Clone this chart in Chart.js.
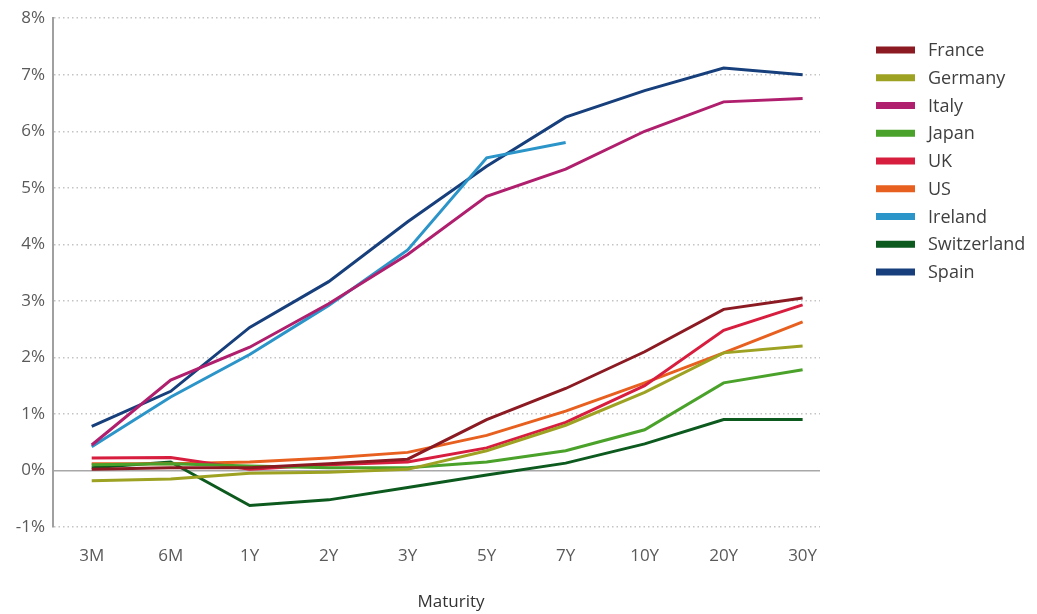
<!DOCTYPE html>
<html>
<head>
<meta charset="utf-8">
<script src="https://cdn.jsdelivr.net/npm/chart.js@4.4.1/dist/chart.umd.min.js"></script>
<style>
  html, body { margin: 0; padding: 0; background: #ffffff; }
  #wrap { width: 1037px; height: 614px; position: relative; }
</style>
</head>
<body>
<div id="wrap"><canvas id="curve"></canvas></div>
<script>
// Government bond yield curves by maturity (%)
const maturities = ['3M', '6M', '1Y', '2Y', '3Y', '5Y', '7Y', '10Y', '20Y', '30Y'];
const yTickValues = [-1, 0, 1, 2, 3, 4, 5, 6, 7, 8];
const axisTitle = 'Maturity';

const france      = [0.02, 0.05, 0.05, 0.12, 0.20, 0.90, 1.45, 2.10, 2.85, 3.05];
const germany     = [-0.18, -0.15, -0.05, -0.03, 0.02, 0.35, 0.80, 1.38, 2.08, 2.20];
const italy       = [0.45, 1.60, 2.18, 2.95, 3.82, 4.85, 5.33, 6.00, 6.52, 6.58];
const japan       = [0.10, 0.12, 0.08, 0.05, 0.05, 0.15, 0.35, 0.72, 1.55, 1.78];
const uk          = [0.22, 0.23, 0.02, 0.10, 0.15, 0.40, 0.85, 1.50, 2.48, 2.93];
const us          = [0.12, 0.12, 0.15, 0.22, 0.32, 0.62, 1.05, 1.55, 2.08, 2.63];
const ireland     = [0.42, 1.30, 2.05, 2.92, 3.90, 5.53, 5.80, null, null, null];
const switzerland = [0.05, 0.15, -0.62, -0.52, -0.30, -0.08, 0.13, 0.47, 0.90, 0.90];
const spain       = [0.78, 1.40, 2.53, 3.34, 4.40, 5.38, 6.25, 6.72, 7.12, 7.00];

const countries = ['France', 'Germany', 'Italy', 'Japan', 'UK', 'US', 'Ireland', 'Switzerland', 'Spain'];
const seriesList = [france, germany, italy, japan, uk, us, ireland, switzerland, spain];
const colours = ['#8c1a22', '#9da223', '#b01f6e', '#4aa22a', '#d81e3f', '#e8601f', '#2b94c8', '#0d5a1f', '#163f7c'];

const FONT = '"Open Sans", "Noto Sans", sans-serif';

const datasets = countries.map((name, i) => ({
  label: name,
  data: seriesList[i].map((v, k) => ({ x: k, y: v })),
  borderColor: colours[i],
  backgroundColor: colours[i],
  borderWidth: 3,
  pointRadius: 0,
  tension: 0,
  spanGaps: false
}));

// Single-column legend at the right and the maturity caption under the axis
const sideLegend = {
  id: 'sideLegend',
  afterDraw(chart) {
    const ctx = chart.ctx;
    ctx.save();
    ctx.font = '18px ' + FONT;
    ctx.textBaseline = 'middle';
    chart.data.datasets.forEach((ds, i) => {
      const y = 50 + i * 27.75;
      ctx.fillStyle = ds.borderColor;
      ctx.fillRect(876, y - 3.5, 39, 7);
      ctx.fillStyle = '#3f3f3f';
      ctx.fillText(ds.label, 928, y + 1);
    });
    ctx.font = '17px ' + FONT;
    ctx.fillStyle = '#333333';
    ctx.textAlign = 'center';
    ctx.fillText(axisTitle, 451, 602);
    ctx.restore();
  }
};

new Chart(document.getElementById('curve'), {
  type: 'line',
  data: { datasets },
  options: {
    responsive: true,
    maintainAspectRatio: false,
    animation: false,
    layout: { padding: { left: 0, top: 18, right: 217, bottom: 0 } },
    plugins: {
      legend: { display: false },
      tooltip: { enabled: false }
    },
    scales: {
      x: {
        type: 'linear',
        min: -0.49,
        max: 9.22,
        afterBuildTicks(scale) {
          scale.ticks = maturities.map((_, i) => ({ value: i }));
        },
        afterFit(scale) { scale.height = 87; },
        grid: { display: false, drawTicks: false },
        border: { display: false },
        ticks: {
          callback: (v) => maturities[v],
          color: '#5a5a5a',
          font: { family: FONT, size: 17 },
          padding: 19,
          maxRotation: 0,
          autoSkip: false
        }
      },
      y: {
        min: -1,
        max: 8,
        afterBuildTicks(scale) {
          scale.ticks = yTickValues.map(v => ({ value: v }));
        },
        afterFit(scale) { scale.width = 53; },
        grid: {
          drawTicks: false,
          color: (c) => (c.tick && c.tick.value === 0) ? '#a8a8a8' : '#c4c4c4',
          lineWidth: 1.5
        },
        border: {
          display: true,
          color: '#a0a0a0',
          width: 2,
          dash: (c) => (c.tick && c.tick.value === 0) ? [] : [1.5, 3]
        },
        ticks: {
          callback: (v) => v + '%',
          color: '#5a5a5a',
          font: { family: FONT, size: 17 },
          padding: 8
        }
      }
    }
  },
  plugins: [sideLegend]
});
</script>
</body>
</html>
